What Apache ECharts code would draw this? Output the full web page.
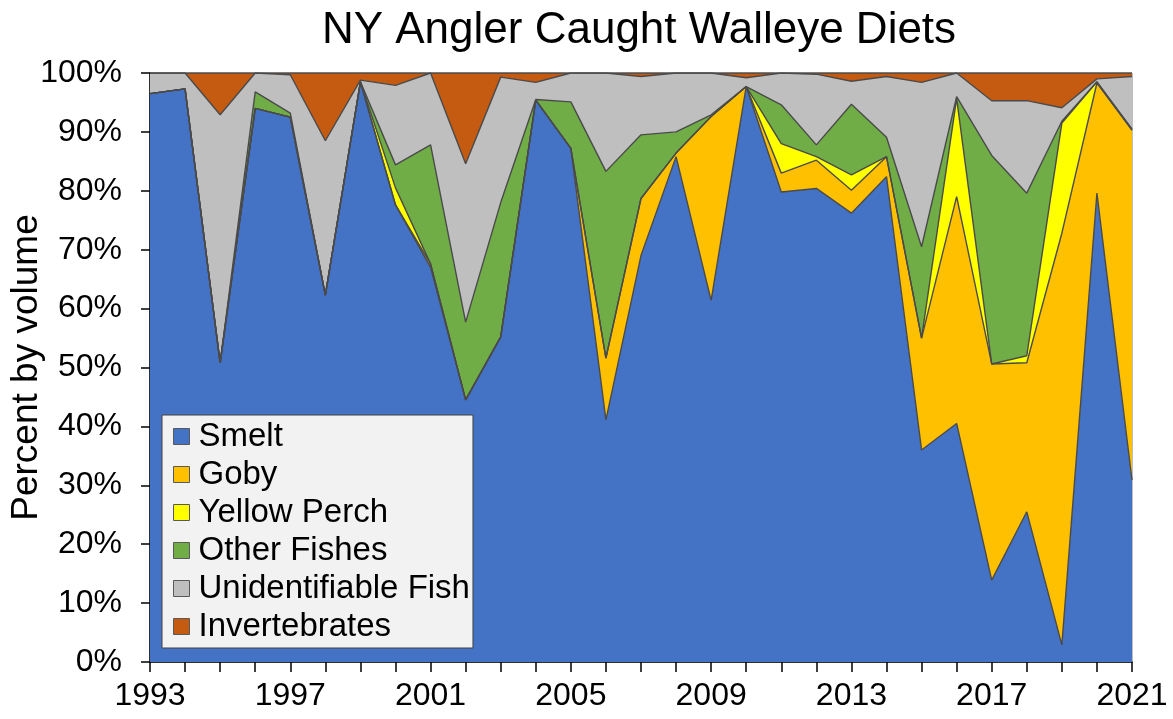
<!DOCTYPE html>
<html>
<head>
<meta charset="utf-8">
<script src="https://cdn.jsdelivr.net/npm/echarts@6/dist/echarts.min.js"></script>
<style>html,body{margin:0;padding:0;background:#fff;}#c{width:1173px;height:719px;}</style>
</head>
<body>
<div id="c"></div>
<script>
const years = ['1993','1994','1995','1996','1997','1998','1999','2000','2001','2002','2003','2004','2005','2006','2007','2008','2009','2010','2011','2012','2013','2014','2015','2016','2017','2018','2019','2020','2021'];
const smelt        = [96.5,97.3,50.8,94.0,92.5,62.3,98.5,77.6,67.0,44.5,55.2,95.4,87.2,41.1,69.0,85.8,61.4,97.7,79.8,80.4,76.2,82.4,36.0,40.5,13.9,25.5,2.9,79.6,30.9];
const goby         = [0,0,0,0,0,0,0,0,0.6,0,0,0,0,10.5,9.7,0.6,31.2,0,3.2,4.8,3.9,3.4,19.0,38.5,36.7,25.3,69.9,18.7,59.4];
const yellowPerch  = [0,0,0,0,0,0,0,2.9,0,0,0,0,0,0,0,0,0,0,5.0,0.6,2.6,0,0,16.7,0,1.2,18.7,0.2,0];
const otherFishes  = [0,0,0,2.8,0.7,0,0,3.9,20.2,13.2,22.8,0.1,7.9,31.7,10.8,3.6,0.3,0,6.6,2.0,12.0,3.3,15.5,0.3,35.4,27.6,0.3,0,0.2];
const unidentFish  = [3.5,2.7,42.1,3.2,6.5,26.2,0.3,13.5,12.2,26.9,21.3,2.9,4.9,16.7,9.9,10.0,7.1,1.5,5.4,12.0,3.9,10.3,27.9,4.0,9.3,15.7,2.3,0.5,8.9];
const invertebrates= [0,0,7.1,0,0.3,11.5,1.2,2.1,0,15.4,0.7,1.6,0,0,0.6,0,0,0.8,0,0.2,1.4,0.6,1.6,0,4.7,4.7,5.9,1.0,0.6];
const yTicks = [0,10,20,30,40,50,60,70,80,90,100];

const seriesDefs = [
  ['Smelt', smelt, '#4472C4'],
  ['Goby', goby, '#FFC000'],
  ['Yellow Perch', yellowPerch, '#FFFF00'],
  ['Other Fishes', otherFishes, '#70AD47'],
  ['Unidentifiable Fish', unidentFish, '#BFBFBF'],
  ['Invertebrates', invertebrates, '#C55A11']
];

const chart = echarts.init(document.getElementById('c'));
const FONT = 'Liberation Sans, Arial, sans-serif';
chart.setOption({
  animation: false,
  backgroundColor: '#fff',
  title: {
    text: 'NY Angler Caught Walleye Diets',
    left: 634, top: 4, textAlign: 'center',
    textStyle: { fontFamily: FONT, fontSize: 44, fontWeight: 'normal', color: '#000' }
  },
  grid: { left: 150, right: 41, top: 73, bottom: 57, show: true, borderColor: '#7f7f7f', borderWidth: 1,
          containLabel: false, outerBoundsMode: 'none' },
  legend: {
    orient: 'vertical', left: 162, top: 415,
    data: seriesDefs.map(s => s[0]),
    icon: 'rect', itemWidth: 16, itemHeight: 16, itemGap: 5,
    padding: [5, 3, 5, 11],
    backgroundColor: '#F2F2F2', borderColor: '#404040', borderWidth: 1,
    itemStyle: { borderColor: '#595959', borderWidth: 1 },
    textStyle: { fontFamily: FONT, fontSize: 33, color: '#000', padding: [0,0,0,4] }
  },
  xAxis: {
    type: 'category', data: years, boundaryGap: false,
    axisLine: { lineStyle: { color: '#000', width: 1.5 } },
    axisTick: { interval: 0, length: 10, lineStyle: { color: '#000', width: 1.5 } },
    axisLabel: { interval: 3, margin: 18, fontFamily: FONT, fontSize: 32, color: '#000' },
    splitLine: { show: false }
  },
  yAxis: {
    type: 'value', min: 0, max: 100, interval: 10,
    name: 'Percent by volume', nameLocation: 'middle', nameRotate: 90, nameGap: 105,
    nameMoveOverlap: false,
    nameTextStyle: { fontFamily: FONT, fontSize: 37, color: '#000' },
    axisLine: { show: true, lineStyle: { color: '#000', width: 1.5 } },
    axisTick: { show: true, length: 9, lineStyle: { color: '#000', width: 1.5 } },
    axisLabel: { margin: 28, fontFamily: FONT, fontSize: 32, color: '#000',
      formatter: v => yTicks.includes(v) ? v + '%' : '' },
    splitLine: { show: false }
  },
  series: seriesDefs.map(([name, data, color]) => ({
    name, type: 'line', stack: 'total', data,
    showSymbol: false, symbol: 'none',
    color: color,
    itemStyle: { color: color },
    lineStyle: { color: '#4a4a4a', width: 1.4 },
    areaStyle: { color: color, opacity: 1 }
  }))
});
</script>
</body>
</html>
